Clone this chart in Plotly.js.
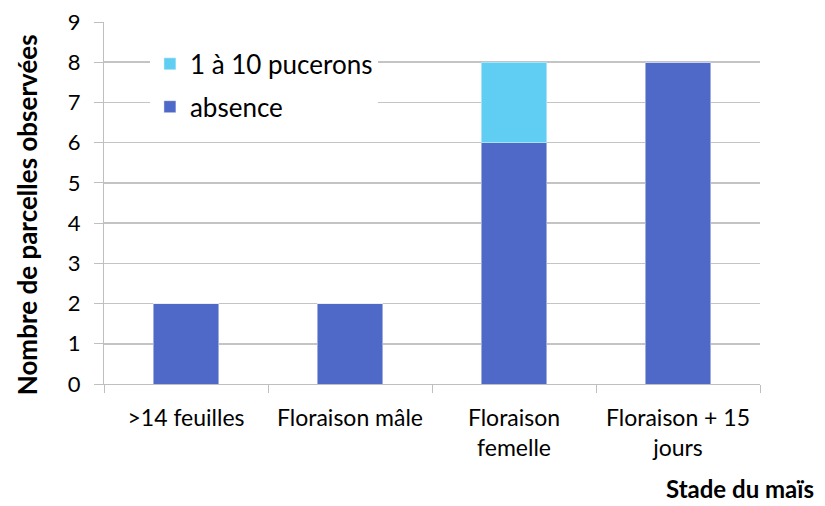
<!DOCTYPE html>
<html>
<head>
<meta charset="utf-8">
<script src="https://cdn.plot.ly/plotly-3.0.1.min.js"></script>
<style>html,body{margin:0;padding:0;background:#fff;}#chart{width:825px;height:506px;}</style>
</head>
<body>
<div id="chart"></div>
<script>
const categories = [">14 feuilles", "Floraison mâle", "Floraison<br>femelle", "Floraison + 15<br>jours"];
const absence = [2, 2, 6, 8];
const pucerons = [0, 0, 2, 0];
const seriesNames = ["absence", "1 à 10 pucerons"];
const yTicks = [0, 1, 2, 3, 4, 5, 6, 7, 8, 9];

const FONT = "Lato, 'Open Sans', sans-serif";

const traces = [
  {
    type: "bar", x: categories, y: absence, name: seriesNames[0],
    marker: {color: "#4F69C8", line: {color: "rgba(255,255,255,0.45)", width: 1}},
    legendgroup: "a", legendrank: 2, hoverinfo: "skip"
  },
  {
    type: "bar", x: categories, y: pucerons, name: seriesNames[1],
    marker: {color: "#60CDF2", line: {color: "rgba(255,255,255,0.45)", width: 1}},
    legendgroup: "b", legendrank: 1, hoverinfo: "skip"
  }
];

const layout = {
  width: 825, height: 506,
  margin: {l: 104, r: 65, t: 22, b: 122},
  barmode: "stack",
  bargap: 0.6,
  paper_bgcolor: "#fff", plot_bgcolor: "#fff",
  font: {family: FONT, color: "#000", size: 22},
  showlegend: true,
  legend: {
    x: 0.07, y: 0.949, xanchor: "left", yanchor: "top",
    bgcolor: "#fff", traceorder: "grouped", tracegroupgap: 6,
    font: {family: FONT, size: 26, color: "#000"}
  },
  xaxis: {
    type: "category",
    tickson: "boundaries",
    ticks: "outside", ticklen: 8, tickcolor: "#bfbfbf", tickwidth: 1,
    ticklabelstandoff: 13,
    showline: true, linecolor: "#bfbfbf", linewidth: 1,
    showgrid: false, zeroline: false,
    tickfont: {family: FONT, size: 23, color: "#000"},
    fixedrange: true
  },
  yaxis: {
    range: [0, 9],
    tickvals: yTicks, ticktext: yTicks.map(String),
    ticks: "outside", ticklen: 9, tickcolor: "#bfbfbf", tickwidth: 1,
    ticklabelstandoff: 9,
    showline: true, linecolor: "#bfbfbf", linewidth: 1,
    showgrid: true, gridcolor: "#c4c4c4", gridwidth: 1.5,
    zeroline: false,
    tickfont: {family: FONT, size: 22, color: "#000"},
    fixedrange: true
  },
  annotations: [
    {
      xref: "paper", yref: "paper", x: -0.117, y: 0.467,
      xanchor: "center", yanchor: "middle", showarrow: false, textangle: -90,
      text: "<b>Nombre de parcelles observées</b>",
      font: {family: FONT, size: 26, color: "#000"}
    },
    {
      xref: "paper", yref: "paper", x: 1.086, y: -0.29,
      xanchor: "right", yanchor: "middle", showarrow: false,
      text: "<b>Stade du maïs</b>",
      font: {family: FONT, size: 24, color: "#000"}
    }
  ]
};

Plotly.newPlot("chart", traces, layout, {displayModeBar: false, staticPlot: true});
</script>
</body>
</html>
